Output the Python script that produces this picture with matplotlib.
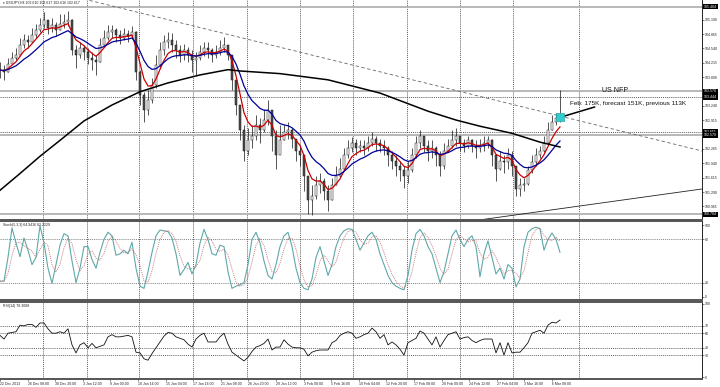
import numpy as np
import pandas as pd
import matplotlib
matplotlib.use("Agg")
import matplotlib.pyplot as plt
from matplotlib.transforms import blended_transform_factory

plt.rcParams["font.family"] = ["Liberation Sans", "DejaVu Sans"]

# USDJPY H4 bars (one entry per plotted bar)
close = [
    104.05, 104.00, 104.18, 104.32, 104.39, 104.61, 104.73, 104.68, 104.84, 104.96,
    105.07, 105.18, 105.00, 105.07, 104.96, 105.09, 105.14, 105.18, 104.50, 104.39,
    104.55, 104.46, 104.32, 104.27, 104.23, 104.61, 104.77, 104.91, 104.96, 104.84,
    104.77, 104.86, 104.82, 104.91, 104.00, 103.48, 103.14, 103.37, 103.71, 104.16,
    104.50, 104.68, 104.73, 104.61, 104.50, 104.39, 104.50, 104.39, 104.27, 104.32,
    104.46, 104.55, 104.50, 104.39, 104.46, 104.55, 104.61, 104.39, 103.82, 103.25,
    102.69, 102.23, 102.46, 102.57, 102.80, 102.69, 102.91, 103.14, 102.57, 102.12,
    102.46, 102.64, 102.69, 102.50, 102.23, 102.12, 101.66, 101.10, 101.21, 101.44,
    101.55, 101.32, 101.10, 101.44, 101.66, 101.82, 102.12, 102.28, 102.41, 102.28,
    102.34, 102.28, 102.41, 102.50, 102.41, 102.34, 102.28, 102.12, 102.00, 101.89,
    101.78, 101.66, 101.78, 102.12, 102.41, 102.57, 102.34, 102.23, 102.28, 102.12,
    101.89, 102.23, 102.34, 102.46, 102.57, 102.41, 102.34, 102.46, 102.34, 102.28,
    102.34, 102.41, 102.46, 102.12, 101.82, 102.00, 101.96, 102.12, 101.89, 101.37,
    101.44, 101.48, 101.78, 101.96, 102.12, 102.23, 102.41, 102.69, 102.87, 102.96,
    102.98]
high = [
    104.23, 104.16, 104.32, 104.46, 104.55, 104.77, 104.86, 104.84, 105.00, 105.09,
    105.23, 105.36, 105.18, 105.23, 105.14, 105.32, 105.32, 105.39, 105.20, 104.61,
    104.68, 104.61, 104.55, 104.46, 104.39, 104.77, 104.96, 105.07, 105.07, 105.00,
    104.96, 105.00, 104.96, 105.05, 104.93, 104.05, 103.55, 103.59, 103.87, 104.39,
    104.68, 104.84, 104.91, 104.89, 104.73, 104.61, 104.64, 104.57, 104.50, 104.46,
    104.61, 104.68, 104.68, 104.55, 104.61, 104.73, 104.80, 104.61, 104.39, 103.82,
    103.25, 102.80, 102.73, 102.80, 103.03, 102.96, 103.18, 103.37, 103.14, 102.69,
    102.80, 102.80, 102.87, 102.73, 102.50, 102.34, 102.12, 101.66, 101.44, 101.66,
    101.73, 101.60, 101.44, 101.60, 101.89, 102.05, 102.28, 102.46, 102.53, 102.50,
    102.46, 102.46, 102.55, 102.66, 102.57, 102.50, 102.46, 102.34, 102.23, 102.12,
    102.00, 101.89, 102.00, 102.28, 102.57, 102.69, 102.57, 102.46, 102.46, 102.34,
    102.23, 102.41, 102.50, 102.69, 102.73, 102.57, 102.50, 102.57, 102.50, 102.46,
    102.50, 102.57, 102.57, 102.48, 102.12, 102.23, 102.12, 102.28, 102.23, 101.89,
    101.60, 101.60, 101.89, 102.12, 102.28, 102.34, 102.55, 102.87, 103.03, 103.09,
    103.59]
low = [
    103.87, 103.82, 104.00, 104.18, 104.27, 104.36, 104.55, 104.55, 104.68, 104.77,
    104.91, 105.00, 104.86, 104.91, 104.82, 104.96, 105.00, 105.05, 104.39, 104.09,
    104.32, 104.27, 104.18, 104.05, 103.93, 104.23, 104.61, 104.73, 104.77, 104.68,
    104.64, 104.73, 104.68, 104.77, 103.82, 103.25, 102.87, 103.03, 103.30, 103.64,
    104.10, 104.39, 104.55, 104.46, 104.32, 104.23, 104.27, 104.23, 104.00, 103.93,
    104.27, 104.36, 104.32, 104.23, 104.32, 104.39, 104.46, 104.27, 103.59, 103.03,
    102.46, 102.00, 102.12, 102.28, 102.46, 102.41, 102.64, 102.80, 102.23, 101.82,
    102.23, 102.46, 102.50, 102.28, 102.00, 101.89, 101.32, 100.80, 100.76, 101.14,
    101.28, 101.10, 100.87, 101.10, 101.44, 101.60, 101.78, 102.05, 102.19, 102.12,
    102.19, 102.12, 102.23, 102.34, 102.23, 102.19, 102.12, 101.89, 101.82, 101.66,
    101.55, 101.39, 101.50, 101.75, 102.05, 102.28, 102.19, 102.00, 102.05, 101.89,
    101.66, 101.82, 102.19, 102.28, 102.34, 102.23, 102.19, 102.28, 102.19, 102.05,
    102.19, 102.23, 102.28, 101.89, 101.55, 101.78, 101.73, 101.82, 101.66, 101.21,
    101.19, 101.32, 101.44, 101.73, 101.89, 102.05, 102.19, 102.38, 102.69, 102.80,
    102.87]

# long moving average (black), read at a few bars
slow_ma_bar = [0, 5, 10, 15, 21, 28, 35, 42, 50, 57, 60, 70, 82, 95, 107, 114, 120, 128, 135, 140]
slow_ma_val = [101.33, 101.71, 102.10, 102.46, 102.90, 103.26, 103.56, 103.76, 103.94, 104.06,
               104.03, 103.97, 103.83, 103.53, 103.12, 102.92, 102.78, 102.62, 102.42, 102.31]

stoch_k = [
    22, 22, 55, 96, 75, 56, 82, 65, 45, 55,
    99, 75, 40, 19, 45, 72, 88, 85, 50, 20,
    40, 70, 70, 52, 40, 62, 80, 90, 85, 58,
    60, 65, 60, 76, 40, 15, 12, 35, 62, 85,
    93, 92, 91, 82, 60, 30, 38, 48, 32, 45,
    75, 94, 80, 60, 58, 72, 70, 35, 12, 15,
    17, 20, 45, 80, 90, 75, 50, 30, 25, 45,
    70, 85, 90, 70, 40, 20, 12, 10, 25, 55,
    70, 50, 30, 45, 70, 85, 92, 95, 94, 80,
    65, 75, 85, 90, 80, 60, 45, 30, 20, 15,
    12, 10, 30, 65, 88, 94, 85, 70, 60, 40,
    20, 35, 60, 85, 93, 80, 70, 80, 85, 70,
    28, 60, 78, 55, 32, 40, 25, 45, 40, 14,
    25, 70, 90, 95, 97, 95, 65, 80, 89, 80,
    62]

rsi = [
    57, 52, 60, 61, 62, 71, 70, 72, 72, 68,
    74, 74, 66, 60, 60, 62, 60, 66, 44, 33,
    44, 47, 40, 46, 40, 42, 44, 55, 58, 55,
    55, 56, 57, 55, 34, 33, 25, 23, 32, 40,
    48, 56, 61, 60, 55, 53, 51, 45, 41, 52,
    57, 60, 48, 48, 48, 55, 60, 45, 34, 30,
    26, 22, 27, 35, 41, 43, 46, 52, 37, 41,
    41, 51, 45, 41, 40, 40, 38, 29, 34, 36,
    37, 37, 37, 47, 50, 57, 60, 62, 60, 53,
    55, 58, 60, 67, 62, 53, 58, 44, 48, 44,
    38, 30, 47, 50, 53, 63, 60, 52, 44, 55,
    41, 50, 58, 60, 62, 52, 54, 55, 50, 47,
    50, 52, 52, 52, 33, 47, 30, 47, 33, 34,
    34, 40, 47, 60, 62, 64, 60, 71, 75, 74,
    78]

price_ticks = [105.190, 104.865, 104.540, 104.215, 103.890, 103.240, 102.915,
               102.265, 101.940, 101.615, 101.290, 100.965]
grey_levels = [105.484, 103.570, 102.579, 100.784]
dotted_levels = [103.444, 102.651]
marked_levels = [105.484, 103.570, 103.444, 102.651, 102.579, 100.784]

# trend lines: (bar, price) end points
down_trend = [(20, 105.68), (175.5, 102.22)]
up_trend = [(112, 100.56), (175.5, 101.36)]

time_labels = ["22 Dec 2013", "26 Dec 08:00", "30 Dec 20:00", "3 Jan 12:00", "8 Jan 00:00",
               "10 Jan 16:00", "15 Jan 04:00", "17 Jan 16:00", "21 Jan 08:00", "26 Jan 20:00",
               "29 Jan 12:00", "3 Feb 00:00", "5 Feb 16:00", "10 Feb 04:00", "12 Feb 20:00",
               "17 Feb 08:00", "20 Feb 00:00", "24 Feb 12:00", "27 Feb 04:00", "3 Mar 16:00",
               "6 Mar 08:00"]

nfp_bar = 140
nfp_title = "US NFP"
nfp_text = "Feb: 175K, forecast 151K, previous 113K"

# ---- layout (pixels) ----
W, H = 720, 387
PLOT_W = 702
fig = plt.figure(figsize=(W / 100, H / 100), dpi=100)
fig.patch.set_facecolor("white")


def panel(top, bottom):
    return fig.add_axes([0, 1 - bottom / H, PLOT_W / W, (bottom - top) / H])


ax = panel(0, 220)
ax_st = panel(221, 300)
ax_rsi = panel(302, 379)

n = len(close)
x = np.arange(n)
xmax = PLOT_W / 4
grid_px = [43, 87, 139, 193, 247, 300, 353, 407, 460, 513, 579]
FS = 2.5

for a in (ax, ax_st, ax_rsi):
    a.set_xlim(0, xmax)
    a.set_facecolor("white")
    for g in grid_px:
        a.axvline(g / 4, color="#222222", lw=0.5, ls=(0, (1.5, 1.5)), zorder=1)
    a.yaxis.tick_right()
    a.tick_params(axis="y", labelsize=FS, length=1.5, width=0.4, pad=0.8, colors="#222222")
    a.spines["left"].set_visible(False)
    a.spines["right"].set_linewidth(0.6)
    for s in ("top", "bottom"):
        a.spines[s].set_color("#555555")
        a.spines[s].set_linewidth(1.4)
    a.set_xticks([])
ax.spines["top"].set_visible(False)

# ---- main price panel ----
ax.set_ylim(100.658, 105.636)
for lv in grey_levels:
    ax.axhline(lv, color="#b8b8b8", lw=1.4, zorder=1)
for lv in dotted_levels:
    ax.axhline(lv, color="#222222", lw=0.5, ls=(0, (1.5, 1.5)), zorder=1)

ax.plot([p[0] for p in down_trend], [p[1] for p in down_trend],
        color="#666666", lw=0.6, ls=(0, (4, 3)), zorder=2)
ax.plot([p[0] for p in up_trend], [p[1] for p in up_trend],
        color="#222222", lw=0.6, zorder=2)

c = np.array(close)
o = np.r_[c[0], c[:-1]]
hi = np.array(high)
lo = np.array(low)
up = c >= o
ax.vlines(x, lo, hi, color="#111111", lw=0.5, zorder=3)
body = np.maximum(np.abs(c - o), 0.012)
ax.bar(x[up], body[up], bottom=np.minimum(o, c)[up], width=0.55,
       color="white", edgecolor="#111111", linewidth=0.35, zorder=4)
ax.bar(x[~up], body[~up], bottom=np.minimum(o, c)[~up], width=0.55,
       color="#505050", edgecolor="#111111", linewidth=0.35, zorder=4)

cs = pd.Series(close)
ax.plot(x, cs.ewm(span=5, adjust=False).mean(), color="#cc0000", lw=0.9, zorder=5)
ax.plot(x, cs.ewm(span=12, adjust=False).mean(), color="#000099", lw=0.9, zorder=5)
ax.plot(slow_ma_bar, slow_ma_val, color="black", lw=1.1, zorder=5)

ax.set_yticks(price_ticks)
ax.set_yticklabels([f"{v:.3f}" for v in price_ticks])
tr = blended_transform_factory(ax.transAxes, ax.transData)
for lv in marked_levels:
    ax.text(1.003, lv, f"{lv:.3f}", transform=tr, fontsize=FS, color="white",
            va="center", ha="left", clip_on=False,
            bbox=dict(fc="black", ec="none", pad=0.5), zorder=10)

# NFP event marker and note
ev = (nfp_bar, close[nfp_bar])
ax.annotate("", xy=ev, xytext=(25, 7.5), textcoords="offset points",
            arrowprops=dict(arrowstyle="-", lw=1.1, color="black", shrinkA=0, shrinkB=0),
            zorder=6)
ax.plot([ev[0]], [ev[1]], marker="s", ms=5.5, color="#33cccc", mec="#2aa8a8",
        mew=0.5, zorder=7)
ax.annotate(nfp_title, xy=ev, xytext=(40, 19), textcoords="offset points",
            fontsize=5, ha="center", va="center", color="#111111")
ax.annotate(nfp_text, xy=ev, xytext=(7, 9.7), textcoords="offset points",
            fontsize=4.6, ha="left", va="center", color="#111111")

ax.text(0.004, 0.997, "\u25be USDJPY,H4 102.610 102.617 102.616 102.617",
        transform=ax.transAxes, fontsize=FS, va="top", ha="left", color="#222222")

# ---- stochastic ----
ax_st.set_ylim(-4.2, 105.6)
for lv in (80, 20):
    ax_st.axhline(lv, color="#555555", lw=0.5, ls=(0, (1.5, 1.5)), zorder=1)
k = pd.Series(stoch_k, dtype=float)
ax_st.plot(x, k, color="#5fa8a8", lw=0.8, zorder=3)
ax_st.plot(x, k.rolling(3, min_periods=1).mean(), color="#c07070", lw=0.6,
           ls=(0, (1.2, 1.2)), zorder=4)
ax_st.set_yticks([100, 80, 20, 0])
ax_st.set_yticklabels(["100", "80", "20", "0"])
ax_st.text(0.004, 0.97, "Stoch(5,3,3) 64.9416 82.2229", transform=ax_st.transAxes,
           fontsize=FS, va="top", ha="left", color="#222222")

# ---- RSI ----
ax_rsi.set_ylim(-2.7, 102.7)
for lv in (70, 60, 40, 30):
    ax_rsi.axhline(lv, color="#333333", lw=0.5, ls=(0, (1.5, 1.5)), zorder=1)
ax_rsi.plot(x, rsi, color="#111111", lw=0.6, zorder=3)
ax_rsi.set_yticks([100, 70, 60, 40, 30, 0])
ax_rsi.set_yticklabels(["100", "70", "60", "40", "30", "0"])
ax_rsi.text(0.004, 0.97, "RSI(14) 78.3088", transform=ax_rsi.transAxes,
            fontsize=FS, va="top", ha="left", color="#222222")

tick_pos = [i * 6.9 for i in range(len(time_labels))]
ax_rsi.set_xticks(tick_pos)
ax_rsi.set_xticklabels(time_labels, ha="left")
ax_rsi.tick_params(axis="x", labelsize=FS, length=1.5, width=0.4, pad=0.8, colors="#222222")

fig.savefig("out.png", dpi=100, facecolor="white")
